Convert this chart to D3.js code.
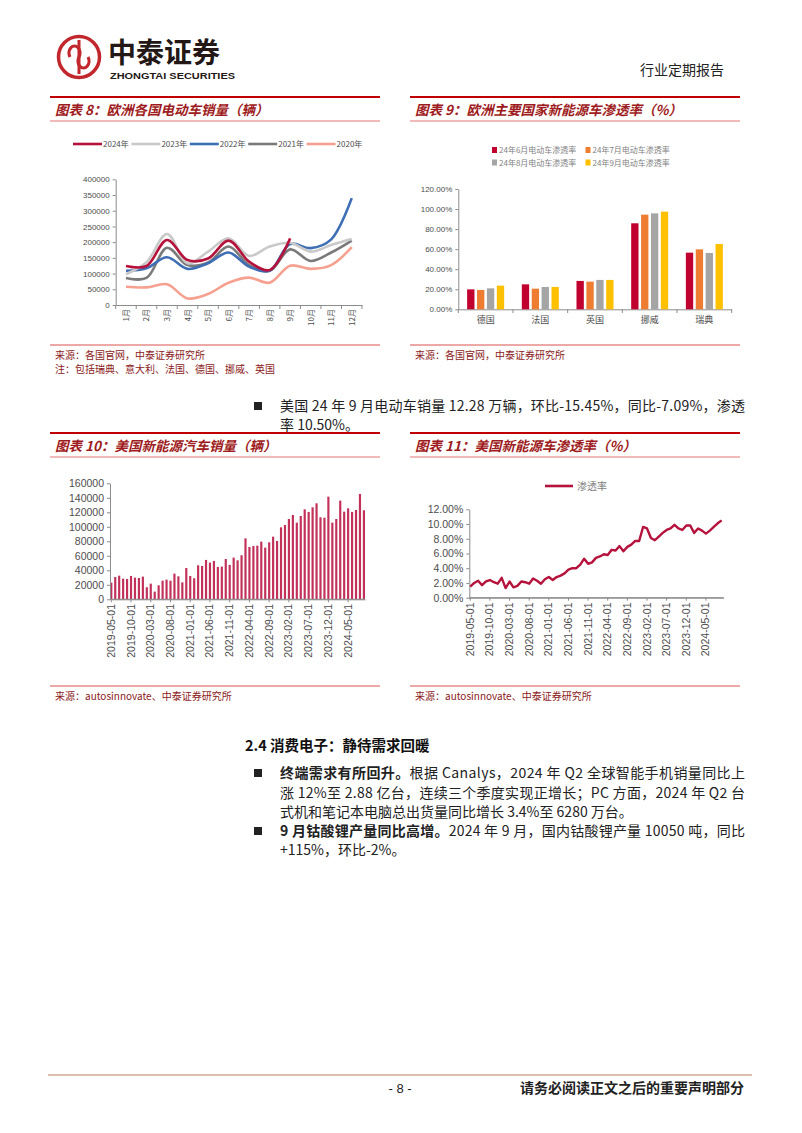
<!DOCTYPE html>
<html><head><meta charset="utf-8">
<script src="https://cdn.jsdelivr.net/npm/d3@7"></script>
<style>
html,body{margin:0;padding:0;background:#fff;}
svg{display:block;}
text{font-family:"Liberation Sans","Noto Sans CJK SC",sans-serif;}
</style></head>
<body>
<svg id="page" width="802" height="1133"></svg>
<script>
// ---------- DATA ----------
const months8 = ['1月','2月','3月','4月','5月','6月','7月','8月','9月','10月','11月','12月'];
const years8 = ['2024年','2023年','2022年','2021年','2020年'];
const sales2024 = [124000,124000,207000,143000,148000,205000,138000,111000,212000];
const sales2023 = [98000,136000,226000,133000,170000,212000,156000,186000,198000,170000,191000,210000];
const sales2022 = [109000,117000,152000,115000,133000,167000,122000,109000,194000,181000,209000,340000];
const sales2021 = [86000,86000,182000,127000,135000,186000,127000,109000,177000,140000,167000,205000];
const sales2020 = [58000,56000,66000,21000,35000,71000,87000,71000,125000,115000,127000,184000];
const yTicks8 = [0,50000,100000,150000,200000,250000,300000,350000,400000];

const countries9 = ['德国','法国','英国','挪威','瑞典'];
const series9 = ['24年6月电动车渗透率','24年7月电动车渗透率','24年8月电动车渗透率','24年9月电动车渗透率'];
const pen6 = [0.199,0.249,0.283,0.858,0.565];
const pen7 = [0.193,0.206,0.276,0.944,0.598];
const pen8 = [0.209,0.223,0.293,0.957,0.562];
const pen9 = [0.236,0.223,0.293,0.974,0.652];
const yTicks9 = [0,0.2,0.4,0.6,0.8,1.0,1.2];

const months10 = (function(){const a=[];for(let y=2019;y<=2024;y++){for(let m=1;m<=12;m++){if(y===2019&&m<5)continue;if(y===2024&&m>9)continue;a.push(y+'-'+(m<10?'0':'')+m+'-01');}}return a;})();
const usSales = [23000,30800,32600,28500,28000,32200,29900,29400,31300,16600,21600,10600,19300,25700,27100,25700,35400,31700,23400,43200,32200,29000,46900,46000,54300,50600,52900,44600,45100,55600,47400,57500,53800,60700,84100,72200,73600,74000,79500,71300,78600,86400,80500,99300,102500,110800,116300,105700,114900,124100,120500,126900,132400,113100,112600,141600,105700,110800,136100,120900,125500,120500,123200,145300,122800];
const usPen = [0.015,0.020,0.023,0.017,0.022,0.024,0.021,0.019,0.027,0.013,0.022,0.014,0.016,0.022,0.021,0.019,0.026,0.023,0.019,0.025,0.028,0.024,0.028,0.030,0.033,0.038,0.040,0.040,0.045,0.053,0.046,0.048,0.054,0.056,0.059,0.058,0.065,0.064,0.070,0.063,0.069,0.072,0.077,0.077,0.096,0.094,0.081,0.078,0.083,0.088,0.092,0.094,0.099,0.094,0.092,0.098,0.098,0.088,0.094,0.091,0.087,0.091,0.096,0.101,0.105];
const xTicks10 = ['2019-05-01','2019-10-01','2020-03-01','2020-08-01','2021-01-01','2021-06-01','2021-11-01','2022-04-01','2022-09-01','2023-02-01','2023-07-01','2023-12-01','2024-05-01'];
const yTicks10 = [0,20000,40000,60000,80000,100000,120000,140000,160000];
const yTicks11 = [0,0.02,0.04,0.06,0.08,0.10,0.12];

// ---------- STYLE ----------
const RED = '#b5123c';
const TITLE_RED = '#9e1b20';
const AX = '#8c8c8c';
const LBL = '#4d4d4d';
const CJK = '"Noto Sans CJK SC","Liberation Sans",sans-serif';
const svg = d3.select('#page');
svg.append('rect').attr('width',802).attr('height',1133).attr('fill','#fff');

// ---------- HEADER ----------
const logo = svg.append('g');
logo.append('circle').attr('cx',79).attr('cy',57).attr('r',20.5).attr('fill','none').attr('stroke','#c1272d').attr('stroke-width',3.5);
logo.append('path').attr('d','M70,57 a5.5,7 0 1 1 9,0 a5.5,7 0 1 0 9,0').attr('fill','none').attr('stroke','#c1272d').attr('stroke-width',3.2);
logo.append('line').attr('x1',79).attr('x2',79).attr('y1',40).attr('y2',74).attr('stroke','#c1272d').attr('stroke-width',3);
svg.append('text').attr('x',108).attr('y',63).attr('font-size',28).attr('font-weight','bold').attr('fill','#231815').style('font-family',CJK).text('中泰证券');
svg.append('text').attr('x',110).attr('y',78.5).attr('font-size',9).attr('font-weight','bold').attr('fill','#231815').attr('textLength',125).attr('lengthAdjust','spacingAndGlyphs').text('ZHONGTAI SECURITIES');
svg.append('text').attr('x',640).attr('y',75).attr('font-size',14).attr('fill','#222').style('font-family',CJK).text('行业定期报告');

// ---------- TITLE / SOURCE HELPERS ----------
function titleBlock(x0,x1,y,label){
  svg.append('line').attr('x1',x0).attr('x2',x1).attr('y1',y).attr('y2',y).attr('stroke','#c00000').attr('stroke-width',2);
  svg.append('line').attr('x1',x0).attr('x2',x1).attr('y1',y+24).attr('y2',y+24).attr('stroke','#d9534f').attr('stroke-width',0.8);
  svg.append('text').attr('x',x0+5).attr('y',y+18).attr('font-size',13.5).attr('font-weight','bold').attr('font-style','italic').attr('fill',TITLE_RED).style('font-family',CJK).text(label);
}
function sourceBlock(x0,x1,y,lines){
  svg.append('line').attr('x1',x0).attr('x2',x1).attr('y1',y).attr('y2',y).attr('stroke','#d9534f').attr('stroke-width',1);
  lines.forEach((t,i)=>svg.append('text').attr('x',x0+5).attr('y',y+14+i*14).attr('font-size',10).attr('fill','#8b1a1a').style('font-family',CJK).text(t));
}
titleBlock(50,380,97,'图表 8：欧洲各国电动车销量（辆）');
titleBlock(410,740,97,'图表 9：欧洲主要国家新能源车渗透率（%）');
sourceBlock(50,380,345,['来源：各国官网，中泰证券研究所','注：包括瑞典、意大利、法国、德国、挪威、英国']);
sourceBlock(410,740,345,['来源：各国官网，中泰证券研究所']);
titleBlock(50,380,433,'图表 10：美国新能源汽车销量（辆）');
titleBlock(410,740,433,'图表 11：美国新能源车渗透率（%）');
sourceBlock(50,380,686,['来源：autosinnovate、中泰证券研究所']);
sourceBlock(410,740,686,['来源：autosinnovate、中泰证券研究所']);

function styleAxis(g,fs){
  g.selectAll('path.domain').attr('stroke',AX);
  g.selectAll('.tick line').attr('stroke',AX);
  g.selectAll('.tick text').attr('fill',LBL).attr('font-size',fs).style('font-family','"Liberation Sans",sans-serif');
}

// ---------- CHART 8 ----------
(function(){
  const x = d3.scaleBand().domain(months8).range([115.7,362]);
  const y = d3.scaleLinear().domain([0,400000]).range([305,179.3]);
  const gy = svg.append('g').attr('transform','translate(115.7,0)').call(d3.axisLeft(y).tickValues(yTicks8).tickSize(3).tickSizeOuter(0).tickFormat(d3.format('d')));
  styleAxis(gy,8);
  const gx = svg.append('g').attr('transform','translate(0,305)').call(d3.axisBottom(x).tickSize(0).tickFormat(''));
  styleAxis(gx,8);
  const bnd = months8.map(m=>x(m)).concat([x.range()[1]]);
  svg.append('g').selectAll('line').data(bnd).join('line').attr('x1',d=>d).attr('x2',d=>d).attr('y1',305).attr('y2',309).attr('stroke',AX);
  svg.append('g').selectAll('text').data(months8).join('text')
    .attr('transform',d=>`translate(${x(d)+x.bandwidth()/2+3},309) rotate(-90)`)
    .attr('text-anchor','end').attr('font-size',8).attr('fill',LBL).style('font-family',CJK).text(d=>d);
  const series = [
    {name:'2020年',vals:sales2020,color:'#f6a08f'},
    {name:'2021年',vals:sales2021,color:'#7a7a7a'},
    {name:'2022年',vals:sales2022,color:'#3e6eb4'},
    {name:'2023年',vals:sales2023,color:'#c9c9c9'},
    {name:'2024年',vals:sales2024,color:RED}
  ];
  const line = d3.line().x((d,i)=>x(months8[i])+x.bandwidth()/2).y(d=>y(d)).curve(d3.curveCatmullRom.alpha(0.5));
  series.forEach(s=>svg.append('path').attr('d',line(s.vals)).attr('fill','none').attr('stroke',s.color).attr('stroke-width',2.6));
  // legend
  const lg = [['2024年',RED],['2023年','#c9c9c9'],['2022年','#3e6eb4'],['2021年','#7a7a7a'],['2020年','#f6a08f']];
  lg.forEach((d,i)=>{
    const x0 = 73 + i*58.4;
    svg.append('line').attr('x1',x0).attr('x2',x0+29).attr('y1',144).attr('y2',144).attr('stroke',d[1]).attr('stroke-width',2.6);
    svg.append('text').attr('x',x0+30).attr('y',147).attr('font-size',8).attr('fill',LBL).style('font-family',CJK).text(d[0]);
  });
})();

// ---------- CHART 9 ----------
(function(){
  const x = d3.scaleBand().domain(countries9).range([458.3,731.7]);
  const y = d3.scaleLinear().domain([0,1.2]).range([309.3,189]);
  const x1 = d3.scaleBand().domain(series9).range([-18.5,18.5]).paddingInner(0.26);
  const colors = ['#c0002f','#ee7d31','#a5a5a5','#ffc000'];
  const data = [pen6,pen7,pen8,pen9];
  const gy = svg.append('g').attr('transform','translate(458.3,0)').call(d3.axisLeft(y).tickValues(yTicks9).tickSize(3).tickSizeOuter(0).tickFormat(d3.format('.2%')));
  styleAxis(gy,8);
  const gx = svg.append('g').attr('transform','translate(0,309.3)').call(d3.axisBottom(x).tickSize(0).tickFormat(''));
  styleAxis(gx,8);
  const bnd = countries9.map(c=>x(c)).concat([x.range()[1]]);
  svg.append('g').selectAll('line').data(bnd).join('line').attr('x1',d=>d).attr('x2',d=>d).attr('y1',309.3).attr('y2',313).attr('stroke',AX);
  data.forEach((vals,si)=>{
    svg.append('g').selectAll('rect').data(vals).join('rect')
      .attr('x',(d,i)=>x(countries9[i])+x.bandwidth()/2+x1(series9[si]))
      .attr('width',x1.bandwidth()).attr('y',d=>y(d)).attr('height',d=>y(0)-y(d)).attr('fill',colors[si]);
  });
  svg.append('g').selectAll('text').data(countries9).join('text').attr('x',d=>x(d)+x.bandwidth()/2).attr('y',323)
    .attr('text-anchor','middle').attr('font-size',9).attr('fill',LBL).style('font-family',CJK).text(d=>d);
  series9.forEach((s,i)=>{
    const cx = i%2===0 ? 492 : 585.5;
    const cy = i<2 ? 150 : 162.5;
    svg.append('rect').attr('x',cx).attr('y',cy-3).attr('width',5).attr('height',6).attr('fill',colors[i]);
    svg.append('text').attr('x',cx+7).attr('y',cy+3).attr('font-size',8).attr('fill','#7f7f7f').style('font-family',CJK).text(s);
  });
})();

// ---------- BULLET TEXT 1 ----------
function bullet(y){svg.append('rect').attr('x',254).attr('y',y-9).attr('width',8).attr('height',8).attr('fill','#222');}
function para(x,y,txt,width){
  const t = svg.append('text').attr('x',x).attr('y',y).attr('font-size',14).attr('fill','#222').style('font-family',CJK);
  if(width) t.attr('textLength',width).attr('lengthAdjust','spacing');
  if(Array.isArray(txt)){
    t.append('tspan').attr('font-weight','bold').text(txt[0]);
    t.append('tspan').text(txt[1]);
  } else t.text(txt);
  return t;
}
bullet(411);
para(280,411,'美国 24 年 9 月电动车销量 12.28 万辆，环比-15.45%，同比-7.09%，渗透',465);
para(280,430,'率 10.50%。');

// ---------- CHART 10 ----------
(function(){
  const x = d3.scaleBand().domain(months10).range([110.2,365]).paddingInner(0.45);
  const y = d3.scaleLinear().domain([0,160000]).range([599.3,483.3]);
  svg.append('g').selectAll('rect').data(usSales).join('rect')
    .attr('x',(d,i)=>x(months10[i])).attr('width',x.bandwidth()).attr('y',d=>y(d)).attr('height',d=>y(0)-y(d)).attr('fill','#c2315a');
  const gy = svg.append('g').attr('transform','translate(110,0)').call(d3.axisLeft(y).tickValues(yTicks10).tickSize(3).tickSizeOuter(0).tickFormat(d3.format('d')));
  styleAxis(gy,10.5);
  const gx = svg.append('g').attr('transform','translate(0,599.3)').call(d3.axisBottom(x).tickValues(xTicks10).tickSize(3).tickSizeOuter(0).tickFormat(''));
  styleAxis(gx,10);
  svg.append('line').attr('x1',110).attr('x2',365).attr('y1',599.3).attr('y2',599.3).attr('stroke',AX);
  svg.append('g').selectAll('text').data(xTicks10).join('text')
    .attr('transform',d=>`translate(${x(d)+x.bandwidth()/2+3.5},604) rotate(-90)`)
    .attr('text-anchor','end').attr('font-size',10.5).attr('fill',LBL).text(d=>d);
})();

// ---------- CHART 11 ----------
(function(){
  const x = d3.scaleBand().domain(months10).range([468.3,723.6]);
  const y = d3.scaleLinear().domain([0,0.12]).range([597.7,509.3]);
  const gy = svg.append('g').attr('transform','translate(469.3,0)').call(d3.axisLeft(y).tickValues(yTicks11).tickSize(3).tickSizeOuter(0).tickFormat(d3.format('.2%')));
  styleAxis(gy,10.5);
  const gx = svg.append('g').attr('transform','translate(0,597.7)').call(d3.axisBottom(x).tickValues(xTicks10).tickSize(3).tickSizeOuter(0).tickFormat(''));
  styleAxis(gx,10);
  svg.append('line').attr('x1',469.3).attr('x2',723.6).attr('y1',597.7).attr('y2',597.7).attr('stroke',AX);
  svg.append('g').selectAll('text').data(xTicks10).join('text')
    .attr('transform',d=>`translate(${x(d)+x.bandwidth()/2+3.5},602.5) rotate(-90)`)
    .attr('text-anchor','end').attr('font-size',10.5).attr('fill',LBL).text(d=>d);
  const line = d3.line().x((d,i)=>x(months10[i])+x.bandwidth()/2).y(d=>y(d));
  svg.append('path').attr('d',line(usPen)).attr('fill','none').attr('stroke',RED).attr('stroke-width',2.4).attr('stroke-linejoin','round');
  svg.append('line').attr('x1',545).attr('x2',573).attr('y1',486).attr('y2',486).attr('stroke',RED).attr('stroke-width',2.6);
  svg.append('text').attr('x',577).attr('y',490).attr('font-size',10).attr('fill','#7f7f7f').style('font-family',CJK).text('渗透率');
})();

// ---------- SECTION 2.4 ----------
svg.append('text').attr('x',245).attr('y',751).attr('font-size',14.5).attr('font-weight','bold').attr('fill','#111').style('font-family',CJK).text('2.4 消费电子：静待需求回暖');
bullet(778);
para(280,778,['终端需求有所回升。','根据 Canalys，2024 年 Q2 全球智能手机销量同比上'],465);
para(280,798,'涨 12%至 2.88 亿台，连续三个季度实现正增长；PC 方面，2024 年 Q2 台',465);
para(280,817,'式机和笔记本电脑总出货量同比增长 3.4%至 6280 万台。');
bullet(836);
para(280,836,['9 月钴酸锂产量同比高增。','2024 年 9 月，国内钴酸锂产量 10050 吨，同比'],465);
para(280,855,'+115%，环比-2%。');

// ---------- FOOTER ----------
svg.append('line').attr('x1',48).attr('x2',752).attr('y1',1075).attr('y2',1075).attr('stroke','#dcc0ae').attr('stroke-width',2);
svg.append('text').attr('x',400).attr('y',1093).attr('text-anchor','middle').attr('font-size',13).attr('fill','#222').text('- 8 -');
svg.append('text').attr('x',520).attr('y',1093).attr('font-size',14).attr('font-weight','bold').attr('fill','#222').style('font-family',CJK).text('请务必阅读正文之后的重要声明部分');
</script>
</body></html>
